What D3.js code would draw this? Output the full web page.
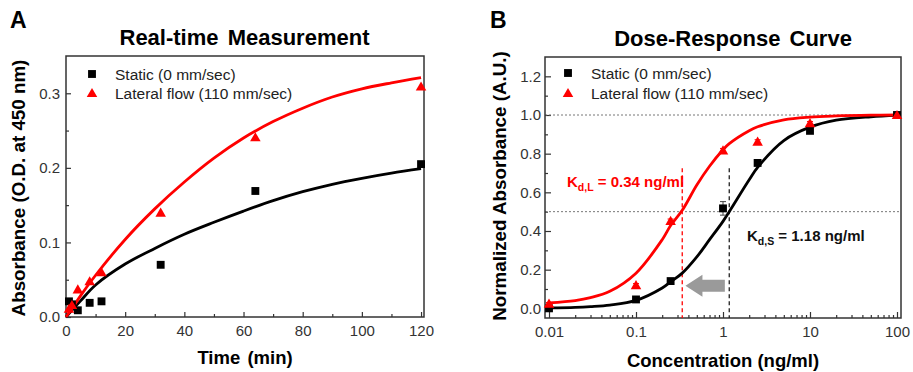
<!DOCTYPE html>
<html>
<head>
<meta charset="utf-8">
<script src="https://cdn.jsdelivr.net/npm/d3@7"></script>
<style>
  html, body { margin: 0; padding: 0; background: #fff; }
  svg { display: block; font-family: "Liberation Sans", Arial, Helvetica, sans-serif; }
</style>
</head>
<body>
<svg id="chart" width="913" height="372"></svg>
<script>
// ---------- Panel A: real-time measurement ----------
const timeMeasured = [1, 2, 4, 8, 12, 32, 64, 120];
const staticMeasured = [0.021, 0.017, 0.009, 0.019, 0.021, 0.070, 0.169, 0.205];
const lateralMeasured = [0.011, 0.016, 0.037, 0.048, 0.060, 0.140, 0.241, 0.309];

const timeFit = [0, 2, 5, 10, 20, 30, 40, 50, 60, 70, 80, 90, 100, 110, 120];
const staticFit = [0, 0.009, 0.022, 0.043, 0.071, 0.092, 0.111, 0.127, 0.142, 0.156, 0.168, 0.178, 0.186, 0.193, 0.199];
const lateralFit = [0, 0.011, 0.029, 0.056, 0.104, 0.145, 0.181, 0.213, 0.240, 0.262, 0.280, 0.295, 0.306, 0.314, 0.321];

const timeTicks = [0, 20, 40, 60, 80, 100, 120];
const absTicks = [0.0, 0.1, 0.2, 0.3];

// ---------- Panel B: dose-response curve ----------
const concMeasured = [0.01, 0.1, 0.25, 1, 2.5, 10, 100];
const staticNorm = [0.000, 0.046, 0.141, 0.517, 0.752, 0.918, 1.000];
const staticErr = [0.004, 0.006, 0.008, 0.035, 0.010, 0.010, 0.004];
const lateralNorm = [0.024, 0.120, 0.452, 0.817, 0.862, 0.958, 1.000];
const lateralErr = [0.006, 0.008, 0.010, 0.010, 0.010, 0.008, 0.004];

const concFit = [0.01, 0.02, 0.03, 0.05, 0.1, 0.2, 0.25, 0.34, 0.5, 0.7, 1, 1.18, 2, 2.5, 5, 10, 20, 50, 100];
const staticNormFit = [0.002, 0.005, 0.009, 0.017, 0.041, 0.105, 0.137, 0.182, 0.266, 0.355, 0.450, 0.500, 0.665, 0.729, 0.868, 0.937, 0.973, 0.991, 0.998];
const lateralNormFit = [0.028, 0.040, 0.055, 0.088, 0.182, 0.355, 0.428, 0.507, 0.638, 0.735, 0.820, 0.852, 0.919, 0.939, 0.975, 0.989, 0.995, 0.999, 1.000];

const concTicks = [0.01, 0.1, 1, 10, 100];
const concTickLabels = ["0.01", "0.1", "1", "10", "100"];
const normTicks = [0.0, 0.2, 0.4, 0.6, 0.8, 1.0, 1.2];

const kdLateral = 0.34;
const kdStatic = 1.18;
const kdLineTop = 0.725;
const refLevels = [1.0, 0.5];
const arrowFrom = 1.05, arrowTo = 0.37, arrowLevel = 0.117;

const seriesNames = ["Static (0 mm/sec)", "Lateral flow (110 mm/sec)"];
const RED = "#ff0000", BLACK = "#000000", FRAME = "#333333", TICKTXT = "#333333";

const svg = d3.select("#chart");

// shared helpers
function frame(g, x0, x1, y0, y1) {
  g.append("rect").attr("x", x0).attr("y", y0)
    .attr("width", x1 - x0).attr("height", y1 - y0)
    .attr("fill", "none").attr("stroke", FRAME).attr("stroke-width", 1.5);
}
function styleAxis(sel) {
  sel.select(".domain").remove();
  sel.selectAll(".tick line").attr("stroke", FRAME).attr("stroke-width", 1.2);
  sel.selectAll(".tick text").attr("fill", TICKTXT).attr("font-size", 15);
}
const sq = d3.symbol().type(d3.symbolSquare).size(62);
const tri = d3.symbol().type(d3.symbolTriangle).size(48);
const smooth = d3.curveCatmullRom.alpha(0.5);

function legend(g, x, y1, y2) {
  g.append("path").attr("d", sq()).attr("transform", `translate(${x},${y1})`).attr("fill", BLACK);
  g.append("path").attr("d", tri()).attr("transform", `translate(${x},${y2 + 1})`).attr("fill", RED);
  g.append("text").attr("x", x + 23).attr("y", y1 + 6).attr("font-size", 15.5).attr("fill", "#222").text(seriesNames[0]);
  g.append("text").attr("x", x + 23).attr("y", y2 + 6).attr("font-size", 15.5).attr("fill", "#222").text(seriesNames[1]);
}

// ================= Panel A =================
{
  const g = svg.append("g");
  const x = d3.scaleLinear().domain([0, 121]).range([66, 424]);
  const y = d3.scaleLinear().domain([0, 0.35]).range([317, 56]);

  // minor ticks
  g.append("g").attr("transform", "translate(0,317)")
    .call(d3.axisBottom(x).tickValues(d3.range(10, 121, 20)).tickSize(-3).tickFormat(""))
    .call(styleAxis);
  g.append("g").attr("transform", "translate(66,0)")
    .call(d3.axisLeft(y).tickValues([0.05, 0.15, 0.25]).tickSize(-3).tickFormat(""))
    .call(styleAxis);
  // major ticks
  g.append("g").attr("transform", "translate(0,317)")
    .call(d3.axisBottom(x).tickValues(timeTicks).tickSize(-5).tickPadding(8).tickFormat(d3.format("d")))
    .call(styleAxis);
  g.append("g").attr("transform", "translate(66,0)")
    .call(d3.axisLeft(y).tickValues(absTicks).tickSize(-5).tickPadding(6).tickFormat(d3.format(".1f")))
    .call(styleAxis);

  frame(g, 66, 424, 56, 317);

  const line = d3.line().curve(smooth).x(d => x(d[0])).y(d => y(d[1]));
  g.append("path").datum(timeFit.map((t, i) => [t, staticFit[i]]))
    .attr("d", line).attr("fill", "none").attr("stroke", BLACK).attr("stroke-width", 2.8);
  g.append("path").datum(timeFit.map((t, i) => [t, lateralFit[i]]))
    .attr("d", line).attr("fill", "none").attr("stroke", RED).attr("stroke-width", 2.8);

  g.selectAll(".sq").data(timeMeasured).join("path")
    .attr("d", sq()).attr("fill", BLACK)
    .attr("transform", (t, i) => `translate(${x(t)},${y(staticMeasured[i])})`);
  g.selectAll(".tri").data(timeMeasured).join("path")
    .attr("d", tri()).attr("fill", RED)
    .attr("transform", (t, i) => `translate(${x(t)},${y(lateralMeasured[i]) + 1})`);

  legend(g, 92, 74, 93);

  g.append("text").attr("x", 244.5).attr("y", 45).attr("text-anchor", "middle")
    .attr("font-size", 22).attr("font-weight", "bold").attr("word-spacing", 3)
    .text("Real-time Measurement");
  g.append("text").attr("x", 245).attr("y", 364).attr("text-anchor", "middle")
    .attr("font-size", 18.5).attr("font-weight", "bold").attr("word-spacing", 2)
    .text("Time (min)");
  g.append("text").attr("transform", "translate(25,188) rotate(-90)").attr("text-anchor", "middle")
    .attr("font-size", 18.8).attr("font-weight", "bold")
    .text("Absorbance (O.D. at 450 nm)");
  g.append("text").attr("x", 10).attr("y", 28).attr("font-size", 23).attr("font-weight", "bold").text("A");
}

// ================= Panel B =================
{
  const g = svg.append("g");
  const x = d3.scaleLog().domain([Math.pow(10, -2.046), Math.pow(10, 2.046)]).range([545, 901]);
  const y = d3.scaleLinear().domain([-0.05, 1.3]).range([318, 57]);

  // minor ticks
  const minorConc = [];
  [0.01, 0.1, 1, 10].forEach(d => { for (let k = 2; k <= 9; k++) minorConc.push(d * k); });
  g.append("g").attr("transform", "translate(0,318)")
    .call(d3.axisBottom(x).tickValues(minorConc).tickSize(-3).tickFormat(""))
    .call(styleAxis);
  g.append("g").attr("transform", "translate(545,0)")
    .call(d3.axisLeft(y).tickValues([0.1, 0.3, 0.5, 0.7, 0.9, 1.1]).tickSize(-3).tickFormat(""))
    .call(styleAxis);
  // major ticks
  g.append("g").attr("transform", "translate(0,318)")
    .call(d3.axisBottom(x).tickValues(concTicks).tickSize(-6).tickPadding(8)
      .tickFormat((d, i) => concTickLabels[i]))
    .call(styleAxis);
  g.append("g").attr("transform", "translate(545,0)")
    .call(d3.axisLeft(y).tickValues(normTicks).tickSize(-6).tickPadding(4).tickFormat(d3.format(".1f")))
    .call(styleAxis);

  // reference levels
  g.selectAll(".ref").data(refLevels).join("line")
    .attr("x1", 545).attr("x2", 901).attr("y1", d => y(d)).attr("y2", d => y(d))
    .attr("stroke", "#777").attr("stroke-width", 1).attr("stroke-dasharray", "2,2");

  frame(g, 545, 901, 57, 318);

  // Kd markers
  g.append("line").attr("x1", x(kdLateral)).attr("x2", x(kdLateral))
    .attr("y1", y(kdLineTop)).attr("y2", 318)
    .attr("stroke", RED).attr("stroke-width", 1.3).attr("stroke-dasharray", "4,3");
  g.append("line").attr("x1", x(kdStatic)).attr("x2", x(kdStatic))
    .attr("y1", y(kdLineTop)).attr("y2", 318)
    .attr("stroke", "#222").attr("stroke-width", 1.3).attr("stroke-dasharray", "4,3");

  // shift arrow
  {
    const xs = x(arrowFrom), xe = x(arrowTo), yc = y(arrowLevel);
    const body = 6, head = 11, headLen = 17;
    const pts = [[xs, yc - body], [xe + headLen, yc - body], [xe + headLen, yc - head], [xe, yc],
      [xe + headLen, yc + head], [xe + headLen, yc + body], [xs, yc + body]];
    g.append("path").attr("d", "M" + pts.map(p => p.join(",")).join("L") + "Z").attr("fill", "#9a9a9a");
  }

  const line = d3.line().curve(smooth).x(d => x(d[0])).y(d => y(d[1]));
  g.append("path").datum(concFit.map((c, i) => [c, staticNormFit[i]]))
    .attr("d", line).attr("fill", "none").attr("stroke", BLACK).attr("stroke-width", 2.8);
  g.append("path").datum(concFit.map((c, i) => [c, lateralNormFit[i]]))
    .attr("d", line).attr("fill", "none").attr("stroke", RED).attr("stroke-width", 2.8);

  // error bars
  function errBars(vals, errs, color) {
    const eg = g.append("g").attr("stroke", color).attr("stroke-width", 1);
    concMeasured.forEach((c, i) => {
      const cx = x(c), yt = y(vals[i] + errs[i]), yb = y(vals[i] - errs[i]);
      eg.append("line").attr("x1", cx).attr("x2", cx).attr("y1", yt).attr("y2", yb);
      eg.append("line").attr("x1", cx - 3).attr("x2", cx + 3).attr("y1", yt).attr("y2", yt);
      eg.append("line").attr("x1", cx - 3).attr("x2", cx + 3).attr("y1", yb).attr("y2", yb);
    });
  }
  errBars(staticNorm, staticErr, "#444");
  errBars(lateralNorm, lateralErr, RED);

  g.selectAll(".sq").data(concMeasured).join("path")
    .attr("d", sq()).attr("fill", BLACK)
    .attr("transform", (c, i) => `translate(${x(c)},${y(staticNorm[i])})`);
  g.selectAll(".tri").data(concMeasured).join("path")
    .attr("d", tri()).attr("fill", RED)
    .attr("transform", (c, i) => `translate(${x(c)},${y(lateralNorm[i]) + 1})`);

  legend(g, 568, 73, 93);

  // Kd labels
  const kdL = g.append("text").attr("x", 567).attr("y", 187).attr("fill", RED)
    .attr("font-size", 15).attr("font-weight", "bold");
  kdL.append("tspan").text("K");
  kdL.append("tspan").attr("font-size", 10.5).attr("dy", 4).text("d,L");
  kdL.append("tspan").attr("dy", -4).text(" = " + kdLateral.toFixed(2) + " ng/ml");

  const kdS = g.append("text").attr("x", 747).attr("y", 241).attr("fill", "#111")
    .attr("font-size", 15).attr("font-weight", "bold");
  kdS.append("tspan").text("K");
  kdS.append("tspan").attr("font-size", 10.5).attr("dy", 4).text("d,S");
  kdS.append("tspan").attr("dy", -4).text(" = " + kdStatic.toFixed(2) + " ng/ml");

  g.append("text").attr("x", 733).attr("y", 46).attr("text-anchor", "middle")
    .attr("font-size", 22).attr("font-weight", "bold").attr("word-spacing", 3)
    .text("Dose-Response Curve");
  g.append("text").attr("x", 723).attr("y", 366.5).attr("text-anchor", "middle")
    .attr("font-size", 18.5).attr("font-weight", "bold")
    .text("Concentration (ng/ml)");
  g.append("text").attr("transform", "translate(505.5,186) rotate(-90)").attr("text-anchor", "middle")
    .attr("font-size", 18.8).attr("font-weight", "bold")
    .text("Normalized Absorbance (A.U.)");
  g.append("text").attr("x", 490).attr("y", 28).attr("font-size", 23).attr("font-weight", "bold").text("B");
}
</script>
</body>
</html>
